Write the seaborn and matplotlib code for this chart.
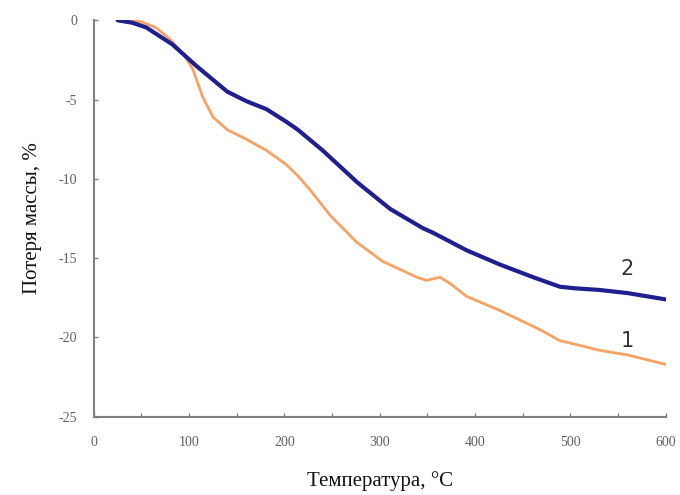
import matplotlib
matplotlib.use("Agg")
import matplotlib.pyplot as plt
import seaborn as sns
import pandas as pd
from matplotlib.ticker import MultipleLocator

# Curve 1 (orange)
t1 = [35, 50, 65, 80, 95, 104, 114, 125, 140, 160, 181, 202, 214, 227, 248, 276, 303, 321, 339,
      349, 363, 374, 391, 426, 447, 468, 489, 510, 530, 560, 600]
m1 = [0, -0.1, -0.45, -1.2, -2.2, -3.1, -4.8, -6.1, -6.9, -7.5, -8.2, -9.1, -9.8, -10.7, -12.3,
      -14.0, -15.2, -15.7, -16.2, -16.4, -16.2, -16.6, -17.4, -18.3, -18.9, -19.5, -20.2, -20.5,
      -20.8, -21.1, -21.7]
# Curve 2 (blue)
t2 = [25, 40, 55, 69, 82, 95, 108, 122, 140, 160, 181, 202, 214, 240, 258, 276, 311, 345, 356, 391,
      426, 461, 489, 505, 530, 560, 600]
m2 = [0, -0.15, -0.45, -1.0, -1.5, -2.2, -2.9, -3.6, -4.5, -5.1, -5.6, -6.4, -6.9, -8.2, -9.2,
      -10.2, -11.9, -13.1, -13.4, -14.5, -15.4, -16.2, -16.8, -16.9, -17.0, -17.2, -17.6]

labels = ["1", "2"]
x_ticks = [0, 100, 200, 300, 400, 500, 600]
y_ticks = [0, -5, -10, -15, -20, -25]

sns.set_style("white")
plt.rcParams['font.family'] = ['Liberation Serif', 'DejaVu Serif']

fig = plt.figure(figsize=(6.8, 4.95), dpi=100)
ax = fig.add_axes([0.138, 0.158, 0.841, 0.801])

df1 = pd.DataFrame({"T": t1, "m": m1})
df2 = pd.DataFrame({"T": t2, "m": m2})
sns.lineplot(data=df1, x="T", y="m", ax=ax, color="#f5a263", lw=2.0)
sns.lineplot(data=df2, x="T", y="m", ax=ax, color="#1f1f8f", lw=3.0)

ax.set_xlim(0, 600)
ax.set_ylim(-25, 0)
ax.set_xticks(x_ticks)
ax.set_yticks(y_ticks)
ax.set_yticklabels([str(v) for v in y_ticks])
ax.xaxis.set_minor_locator(MultipleLocator(50))

for s in ["top", "right"]:
    ax.spines[s].set_visible(False)
for s in ["left", "bottom"]:
    ax.spines[s].set_color("#808080")
    ax.spines[s].set_linewidth(1.5)

ax.tick_params(axis="both", which="both", direction="in", color="#808080",
               labelcolor="#606060", labelsize=10, bottom=True, left=True)
ax.tick_params(axis="both", which="major", length=3, width=1)
ax.tick_params(axis="x", which="minor", length=3, width=1, bottom=True)
ax.tick_params(axis="x", which="major", pad=14)
ax.tick_params(axis="y", which="major", pad=12)

ax.set_xlabel("Температура, °C", fontsize=15, color="#111111", labelpad=16)
ax.set_ylabel("Потеря массы, %", fontsize=15, color="#111111", labelpad=12)

ax.text(560, -20.2, labels[0], fontsize=15, color="#333333", family="DejaVu Sans", ha="center", va="center")
ax.text(560, -15.7, labels[1], fontsize=15, color="#333333", family="DejaVu Sans", ha="center", va="center")

fig.savefig("out.png", dpi=100)
